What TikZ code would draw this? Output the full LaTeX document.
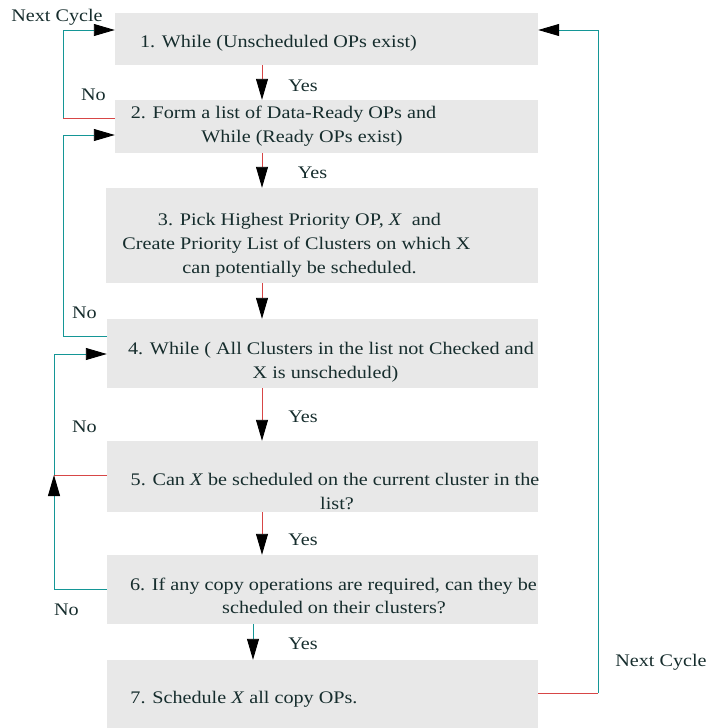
\documentclass[tikz,border=0pt]{standalone}
\usepackage{fontspec}
\setmainfont{Liberation Serif}[FakeStretch=1.14]
\usetikzlibrary{arrows.meta}
\definecolor{boxgray}{RGB}{232,232,232}
\definecolor{txt}{RGB}{22,45,45}
\definecolor{tealc}{RGB}{20,150,150}
\definecolor{redc}{RGB}{215,70,70}
\begin{document}
\begin{tikzpicture}[x=1pt,y=-1pt,
  flowbox/.style={fill=boxgray,draw=none,inner sep=0pt},
  ln/.style={text=txt,inner sep=0pt,anchor=base,font=\fontsize{17.7}{24}\selectfont},
  tl/.style={line width=0.9pt,draw=tealc},
  rl/.style={line width=0.9pt,draw=redc},
  arr/.style={-{Triangle[length=21pt,width=12pt,color=black]}}]
\useasboundingbox (0,0) rectangle (707,728);
% boxes
\node[flowbox,minimum width=423pt,minimum height=52pt] (b1) at (326.5,39) {};
\node[flowbox,minimum width=423pt,minimum height=53pt] (b2) at (326.5,126.5) {};
\node[flowbox,minimum width=432pt,minimum height=95pt] (b3) at (322,235.5) {};
\node[flowbox,minimum width=431pt,minimum height=69pt] (b4) at (322.5,353.5) {};
\node[flowbox,minimum width=431pt,minimum height=71pt] (b5) at (322.5,476.5) {};
\node[flowbox,minimum width=431pt,minimum height=69pt] (b6) at (322.5,589.5) {};
\node[flowbox,minimum width=431pt,minimum height=68pt] (b7) at (322.5,694) {};
% box texts
\node[ln] (t1) at (278.5,47) {1. While (Unscheduled OPs exist)};
\node[ln] (t2a) at (283.5,118) {2. Form a list of Data-Ready OPs and};
\node[ln] (t2b) at (302,142) {While (Ready OPs exist)};
\node[ln] (t3a) at (299.5,225) {3. Pick Highest Priority OP, \textit{X}\ \ and};
\node[ln] (t3b) at (296.5,249) {Create Priority List of Clusters on which X};
\node[ln] (t3c) at (299.5,273) {can potentially be scheduled.};
\node[ln] (t4a) at (331,354) {4. While ( All Clusters in the list not Checked and};
\node[ln] (t4b) at (325.5,378) {X is unscheduled)};
\node[ln] (t5a) at (335,485) {5. Can \textit{X} be scheduled on the current cluster in the};
\node[ln] (t5b) at (337,509) {list?};
\node[ln] (t6a) at (333.5,590) {6. If any copy operations are required, can they be};
\node[ln] (t6b) at (334,613) {scheduled on their clusters?};
\node[ln] (t7) at (244,703) {7. Schedule \textit{X} all copy OPs.};
% labels
\node[ln] (nc1) at (57,21) {Next Cycle};
\node[ln] (no1) at (93.5,100) {No};
\node[ln] (y1) at (303,91) {Yes};
\node[ln] (y2) at (312.5,178) {Yes};
\node[ln] (no2) at (84.5,318) {No};
\node[ln] (y4) at (303,422) {Yes};
\node[ln] (no3) at (84.5,432) {No};
\node[ln] (y5) at (303,545) {Yes};
\node[ln] (no4) at (66.5,615) {No};
\node[ln] (y6) at (303,649) {Yes};
\node[ln] (nc2) at (661,666) {Next Cycle};
% helper coordinates
\coordinate (cx) at (262,0);
\coordinate (cx6) at (253,0);
\coordinate (L1) at (63,0);
\coordinate (L3) at (54,0);
\coordinate (R1) at (598,0);
\coordinate (yTop) at (0,30);
\coordinate (y2in) at (0,135);
\coordinate (y2out) at (0,118);
\coordinate (y4in) at (0,354);
\coordinate (y4out) at (0,336);
\coordinate (y5out) at (0,475);
\coordinate (y6out) at (0,589);
\coordinate (y7out) at (0,693);
% down arrows
\draw[rl,arr] (b1.south -| cx) -- (b2.north -| cx);
\draw[rl,arr] (b2.south -| cx) -- (b3.north -| cx);
\draw[rl,arr] (b3.south -| cx) -- (b4.north -| cx);
\draw[rl,arr] (b4.south -| cx) -- (b5.north -| cx);
\draw[rl,arr] (b5.south -| cx) -- (b6.north -| cx);
\draw[tl,arr] (b6.south -| cx6) -- (b7.north -| cx6);
% loop: box 2 -> box 1 (Next Cycle)
\draw[rl] (b2.west |- y2out) -- (L1 |- y2out);
\draw[tl,arr] (L1 |- y2out) -- (L1 |- yTop) -- (b1.west |- yTop);
% loop: box 4 -> box 2 (No)
\draw[tl,arr] (b4.west |- y4out) -- (L1 |- y4out) -- (L1 |- y2in) -- (b2.west |- y2in);
% loop: boxes 5,6 -> box 4 (No)
\draw[rl] (b5.west |- y5out) -- (L3 |- y5out);
\draw[tl,arr] (b6.west |- y6out) -- (L3 |- y6out) -- (L3 |- y5out);
\draw[tl] (L3 |- y5out) -- (L3 |- y4in);
\draw[tl,arr] (L3 |- y4in) -- (b4.west |- y4in);
% loop: box 7 -> box 1 (Next Cycle)
\draw[rl] (b7.east |- y7out) -- (R1 |- y7out);
\draw[tl,arr] (R1 |- y7out) -- (R1 |- yTop) -- (b1.east |- yTop);
\end{tikzpicture}
\end{document}
